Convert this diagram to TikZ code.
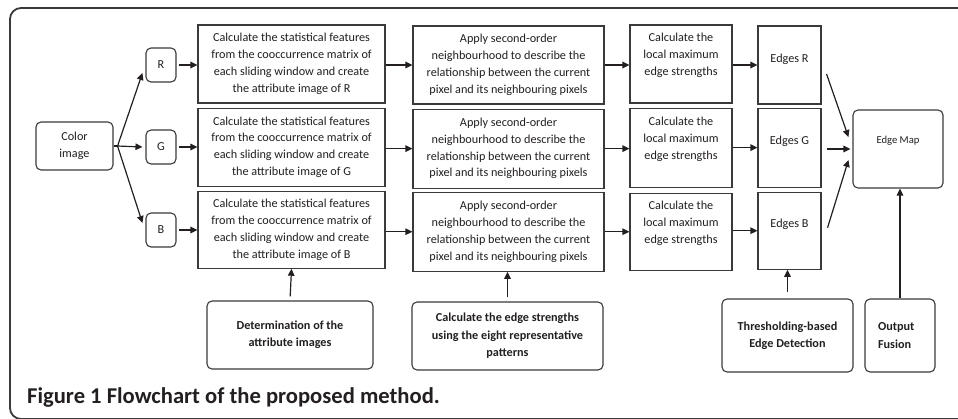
\documentclass[tikz,border=0pt]{standalone}
\usepackage{fontspec}
\setmainfont{Carlito}
\usepackage{tikz}
\usetikzlibrary{arrows.meta,positioning,calc}
\definecolor{ink}{HTML}{231F20}
\definecolor{edge}{HTML}{3A3A3A}
\tikzset{
  box/.style={draw=edge, line width=1.1pt, fill=white, inner sep=2pt, align=center, text=ink, font=\fontsize{12.2}{16.8}\selectfont},
  rbox/.style={box, rounded corners=5pt},
  bbox/.style={rbox, font=\fontsize{12.2}{17.4}\selectfont\bfseries},
  txt/.style={align=center, text=ink, inner sep=0pt, font=\fontsize{12.2}{16.8}\selectfont},
  flow/.style={-{Triangle[length=7pt,width=6.5pt]}, line width=1.2pt, draw=ink},
}
\begin{document}
\begin{tikzpicture}[x=1pt,y=-1pt,node distance=4pt]
  \useasboundingbox (0,0) rectangle (958,418);
  \draw[edge,line width=1.8pt,rounded corners=11pt](962,8)--(10,8)--(10,419)--(962,419);
  % input and channels
  \node[rbox,minimum width=77,minimum height=48](ci) at (74.5,146){Color\\image};
  \node[rbox,minimum width=30,minimum height=34](r) at (161,65){R};
  \node[rbox,minimum width=30,minimum height=34](g) at (161,147){G};
  \node[rbox,minimum width=30,minimum height=34](b) at (161,230){B};
  % attribute images
  \node[box,minimum width=187,minimum height=78](sr) at (291.5,64){Calculate the statistical features\\from the cooccurrence matrix of\\each sliding window and create\\the attribute image of R};
  \node[box,minimum width=187,minimum height=78,below=4pt of sr](sg){Calculate the statistical features\\from the cooccurrence matrix of\\each sliding window and create\\the attribute image of G};
  \node[box,minimum width=187,minimum height=77,below=4pt of sg](sb){Calculate the statistical features\\from the cooccurrence matrix of\\each sliding window and create\\the attribute image of B};
  % neighbourhood
  \node[box,minimum width=191,minimum height=78](nr) at (508.5,65){Apply second-order\\neighbourhood to describe the\\relationship between the current\\pixel and its neighbouring pixels};
  \node[box,minimum width=191,minimum height=79,below=4pt of nr](ng){Apply second-order\\neighbourhood to describe the\\relationship between the current\\pixel and its neighbouring pixels};
  \node[box,minimum width=191,minimum height=79,below=3pt of ng](nb){Apply second-order\\neighbourhood to describe the\\relationship between the current\\pixel and its neighbouring pixels};
  % local maximum
  \node[box,minimum width=102,minimum height=78,label={[txt,yshift=8.5pt]center:Calculate the\\local maximum\\edge strengths}](lr) at (681,64){};
  \node[box,minimum width=102,minimum height=79,below=4pt of lr,label={[txt,yshift=8.5pt]center:Calculate the\\local maximum\\edge strengths}](lg){};
  \node[box,minimum width=102,minimum height=77,below=5pt of lg,label={[txt,yshift=8.5pt]center:Calculate the\\local maximum\\edge strengths}](lb){};
  % edges
  \node[box,minimum width=63,minimum height=78,label={[txt,yshift=6pt]center:Edges R}](er) at (789.5,65){};
  \node[box,minimum width=63,minimum height=79,below=3pt of er,label={[txt,yshift=6pt]center:Edges G}](eg){};
  \node[box,minimum width=63,minimum height=77,below=4pt of eg,label={[txt,yshift=6pt]center:Edges B}](eb){};
  \node[rbox,minimum width=90,minimum height=78,label={[txt,font=\fontsize{10.6}{12}\selectfont,yshift=8pt]center:Edge Map}](map) at (898,149){};
  % stages
  \node[bbox,minimum width=166,minimum height=68](det) at (290,335){Determination of the\\attribute images};
  \node[bbox,minimum width=191,minimum height=68](ces) at (507.5,336){Calculate the edge strengths\\using the eight representative\\patterns};
  \node[bbox,minimum width=131,minimum height=73](thr) at (787.5,335.5){Thresholding-based\\Edge Detection};
  \node[bbox,minimum width=70,minimum height=73,text width=44,align=left](fus) at (900,335.5){Output\\Fusion};
  \node[anchor=base west,text=ink,inner sep=0pt,font=\fontsize{22.6}{24}\selectfont\bfseries](cap) at (27,403){Figure 1 Flowchart of the proposed method.};
  % connectors
  \coordinate (fan) at ($(ci.east)+(4,0)$);
  \draw[line width=1.2pt,ink](ci.east)--(fan);
  \draw[flow](fan)--([xshift=-3pt,yshift=-8pt]r.west);
  \draw[flow](fan)--([xshift=-3pt]g.west);
  \draw[flow](fan)--([xshift=-3pt,yshift=7pt]b.west);
  \foreach \c in {r,g,b}{
    \draw[flow]([xshift=2pt]\c.east)--(\c.east -| s\c.west);
    \draw[flow](s\c.east |- n\c.west)--(n\c.west);
    \draw[flow](n\c.east)--(n\c.east -| l\c.west);
    \draw[flow](l\c.east |- e\c.west)--(e\c.west);
  }
  \draw[flow]([xshift=5pt,yshift=-9pt]er.east)--([xshift=-4pt,yshift=12pt]map.west);
  \draw[flow]([xshift=5pt]eg.east |- map.west)--([xshift=-2pt]map.west);
  \draw[flow]([xshift=6pt,yshift=3pt]eb.east)--([xshift=-4pt,yshift=-11pt]map.west);
  \draw[flow,shorten <=4pt](det.north)--(sb.south);
  \draw[flow,shorten <=4pt](ces.north)--(ces.north |- nb.south);
  \draw[flow,shorten <=6pt](thr.north)--(thr.north |- eb.south);
  \draw[flow](fus.north)--(fus.north |- map.south);
\end{tikzpicture}
\end{document}
